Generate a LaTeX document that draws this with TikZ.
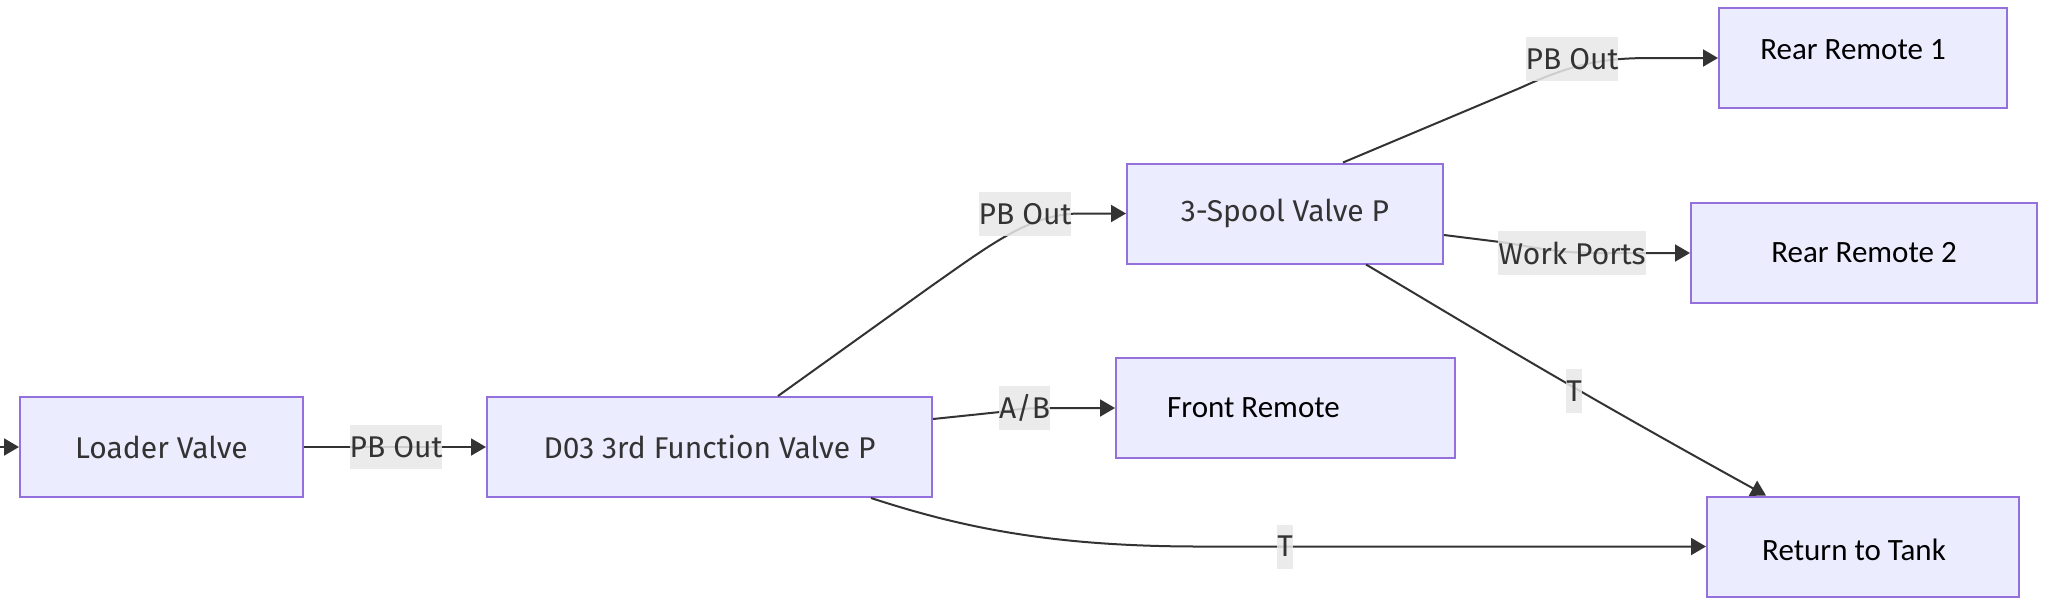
\documentclass[tikz,border=0pt]{standalone}
\usepackage{fontspec}
\setmainfont{Fira Sans}
\newfontfamily\carlito{Carlito}
\usetikzlibrary{arrows.meta,calc}
\definecolor{boxfill}{HTML}{ECECFF}
\definecolor{boxline}{HTML}{9370DB}
\definecolor{ink}{HTML}{333333}
\definecolor{lblbg}{HTML}{E8E8E8}
\begin{document}
\begin{tikzpicture}[x=0.5pt,y=-0.5pt,
  box/.style={draw=boxline,fill=boxfill,line width=1pt,minimum height=50pt,inner sep=0pt,
    font=\fontsize{15}{18}\selectfont,text=ink},
  rtext/.style={font=\carlito\fontsize{15.5}{18}\selectfont,text=black,inner sep=0pt},
  edge/.style={draw=ink,line width=1pt,-{Triangle[length=7.5pt,width=8.5pt]}},
  elabel/.style={fill=lblbg,fill opacity=0.85,text opacity=1,text=ink,inner xsep=0pt,inner ysep=0pt,
    minimum height=22pt,font=\fontsize{15}{18}\selectfont}]
\useasboundingbox (0,0) rectangle (2048,612);

% nodes
\coordinate (in) at (0,447);
\node[box,minimum width=141.5pt] (loader) at (161.5,447) {Loader Valve};
\node[box,minimum width=222.5pt] (d03) at (709.5,447) {D03 3rd Function Valve P};
\node[box,minimum width=158pt] (spool) at (1285,213.5) {3-Spool Valve P};
\node[box,minimum width=169.5pt,label={[rtext,xshift=-16pt]center:Front Remote}] (front) at (1285.5,408) {};
\node[box,minimum width=144pt,label={[rtext,xshift=-5pt,yshift=4pt]center:Rear Remote 1}] (rr1) at (1863,58) {};
\node[box,minimum width=173pt,label={[rtext]center:Rear Remote 2}] (rr2) at (1864,253) {};
\node[box,minimum width=156pt,label={[rtext,xshift=-4.5pt,yshift=-1.5pt]center:Return to Tank}] (tank) at (1863,546.5) {};

% edges
\draw[edge] (in) -- (loader);
\draw[edge] (loader) -- (d03);
\draw[edge] ($(d03.north)+(68.5,0)$) -- (930,287) .. controls (990,245) and (1030,213.5) .. (1080,213.5) -- (spool.west);
\draw[edge] ($(d03.east)+(0,-28)$) -- (1000,412) .. controls (1015,409) and (1030,408) .. (1050,408) -- (front.west);
\draw[edge] ($(d03.south)+(161.5,0)$) .. controls (960,527) and (1050,546.5) .. (1200,546.5) -- (tank.west);
\draw[edge] ($(spool.north)+(58,0)$) -- (1520,88) .. controls (1570,65) and (1600,58) .. (1650,58) -- (rr1.west);
\draw[edge] ($(spool.east)+(0,21.5)$) -- (1500,242) .. controls (1530,246) and (1550,253) .. (1600,253) -- (rr2.west);
\draw[edge] ($(spool.south)+(81,0)$) .. controls (1470,326) and (1560,382) .. ($(tank.north)+(-97,0)$);

% edge labels
\node[elabel] (l1) at (396,447) {PB Out};
\node[elabel] (l2) at (1025,214) {PB Out};
\node[elabel] (l3) at (1024.5,408) {A/B};
\node[elabel] (l4) at (1285,546.5) {T};
\node[elabel] (l5) at (1572,59) {PB Out};
\node[elabel] (l6) at (1572,253) {Work Ports};
\node[elabel] (l7) at (1574,391) {T};
\end{tikzpicture}
\end{document}
